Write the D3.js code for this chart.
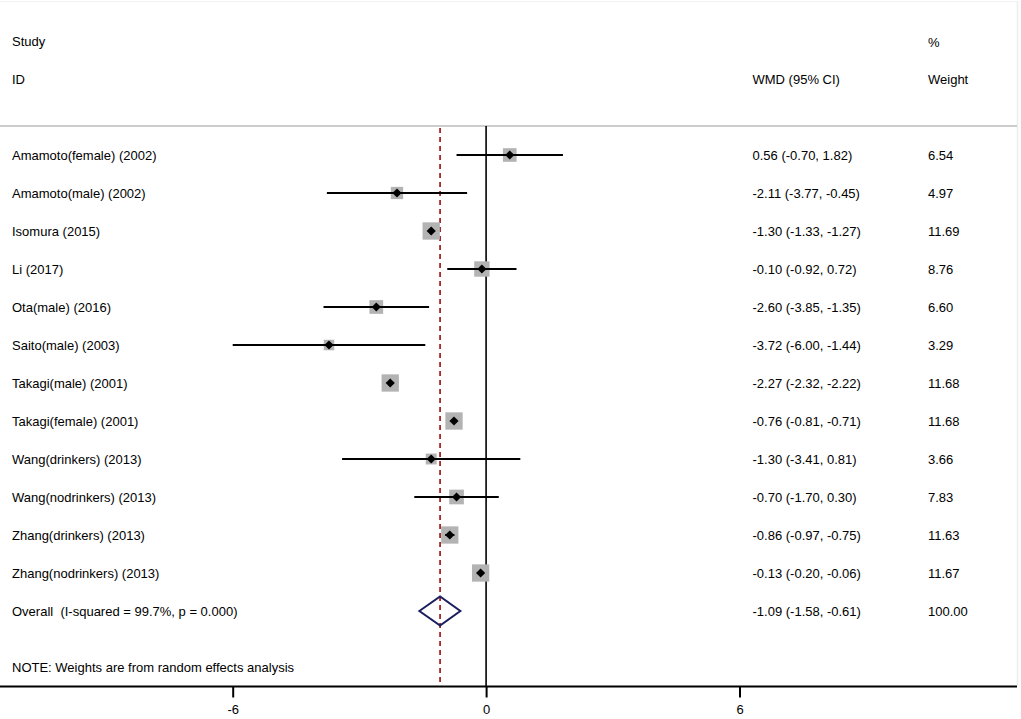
<!DOCTYPE html>
<html>
<head>
<meta charset="utf-8">
<script src="https://cdn.jsdelivr.net/npm/d3@7"></script>
<style>
  html, body { margin: 0; padding: 0; background: #fff; }
  svg text { font-family: "Liberation Sans", Arial, sans-serif; font-size: 13px; fill: #000; white-space: pre; }
</style>
</head>
<body>
<svg id="chart" width="1021" height="719"></svg>
<script>
const studies = ["Amamoto(female) (2002)", "Amamoto(male) (2002)", "Isomura (2015)", "Li (2017)",
  "Ota(male) (2016)", "Saito(male) (2003)", "Takagi(male) (2001)", "Takagi(female) (2001)",
  "Wang(drinkers) (2013)", "Wang(nodrinkers) (2013)", "Zhang(drinkers) (2013)", "Zhang(nodrinkers) (2013)"];
const estimates = [0.56, -2.11, -1.30, -0.10, -2.60, -3.72, -2.27, -0.76, -1.30, -0.70, -0.86, -0.13];
const lower =     [-0.70, -3.77, -1.33, -0.92, -3.85, -6.00, -2.32, -0.81, -3.41, -1.70, -0.97, -0.20];
const upper =     [1.82, -0.45, -1.27, 0.72, -1.35, -1.44, -2.22, -0.71, 0.81, 0.30, -0.75, -0.06];
const weights =   [6.54, 4.97, 11.69, 8.76, 6.60, 3.29, 11.68, 11.68, 3.66, 7.83, 11.63, 11.67];
const overall = { label: "Overall  (I-squared = 99.7%, p = 0.000)", es: -1.09, lo: -1.58, hi: -0.61, weight: 100.00 };
const xTicks = [-6, 0, 6];
const note = "NOTE: Weights are from random effects analysis";

const locale = d3.formatLocale({ decimal: ".", thousands: ",", grouping: [3], currency: ["", ""], minus: "-" });

const svg = d3.select("#chart");

const x = d3.scaleLinear().domain([-6, 6]).range([232.7, 739.5]);
const rows = studies.concat([overall.label]);
const y = d3.scalePoint().domain(d3.range(rows.length)).range([155, 611]);
const boxSize = d3.scaleLinear().domain([Math.sqrt(3.29), Math.sqrt(11.69)]).range([10.5, 17.3]);

const fmt = locale.format(".2f");
const ciText = (e, l, h) => `${fmt(e)} (${fmt(l)}, ${fmt(h)})`;

// faint frame
svg.append("line").attr("x1", 0).attr("x2", 1017).attr("y1", 1.5).attr("y2", 1.5)
  .attr("stroke", "#f0f3f3").attr("stroke-width", 1);
svg.append("line").attr("x1", 1017.5).attr("x2", 1017.5).attr("y1", 1).attr("y2", 686)
  .attr("stroke", "#e8eeee").attr("stroke-width", 1.5);

// headers
svg.append("text").attr("x", 12).attr("y", 46).text("Study");
svg.append("text").attr("x", 12).attr("y", 84).text("ID");
svg.append("text").attr("x", 752.5).attr("y", 84).text("WMD (95% CI)");
svg.append("text").attr("x", 928).attr("y", 46.5).text("%");
svg.append("text").attr("x", 928).attr("y", 84).text("Weight");

// separator
svg.append("line").attr("x1", 0).attr("x2", 1017).attr("y1", 126).attr("y2", 126)
  .attr("stroke", "#bdbdbd").attr("stroke-width", 1.5);

// zero line
svg.append("line").attr("x1", x(0)).attr("x2", x(0)).attr("y1", 126).attr("y2", 686)
  .attr("stroke", "#000").attr("stroke-width", 1.6);

// overall dashed line
svg.append("line").attr("x1", x(overall.es)).attr("x2", x(overall.es)).attr("y1", 128).attr("y2", 686)
  .attr("stroke", "#9b0a0a").attr("stroke-width", 1.6).attr("stroke-dasharray", "5,4");

// study rows
const data = studies.map((s, i) => ({ s, e: estimates[i], l: lower[i], h: upper[i], w: weights[i], i }));
const g = svg.append("g");

data.forEach(d => {
  const cy = y(d.i);
  const bs = boxSize(Math.sqrt(d.w));
  g.append("rect").attr("x", x(d.e) - bs / 2).attr("y", cy - bs / 2).attr("width", bs).attr("height", bs)
    .attr("fill", "#b3b3b3");
  g.append("line").attr("x1", x(d.l)).attr("x2", x(d.h)).attr("y1", cy).attr("y2", cy)
    .attr("stroke", "#000").attr("stroke-width", 2);
  const r = 4.6;
  g.append("path").attr("d", `M${x(d.e) - r},${cy}L${x(d.e)},${cy - r}L${x(d.e) + r},${cy}L${x(d.e)},${cy + r}Z`)
    .attr("fill", "#000");
  svg.append("text").attr("x", 12).attr("y", cy + 4.8).text(d.s);
  svg.append("text").attr("x", 752.5).attr("y", cy + 4.8).text(ciText(d.e, d.l, d.h));
  svg.append("text").attr("x", 928).attr("y", cy + 4.8).text(fmt(d.w));
});

// overall row
const oy = y(studies.length);
svg.append("path")
  .attr("d", `M${x(overall.lo)},${oy}L${x(overall.es)},${oy - 14.5}L${x(overall.hi)},${oy}L${x(overall.es)},${oy + 14.5}Z`)
  .attr("fill", "none").attr("stroke", "#1b1f5e").attr("stroke-width", 2);
svg.append("text").attr("x", 12).attr("y", oy + 4.8).text(overall.label);
svg.append("text").attr("x", 752.5).attr("y", oy + 4.8).text(ciText(overall.es, overall.lo, overall.hi));
svg.append("text").attr("x", 928).attr("y", oy + 4.8).text(fmt(overall.weight));

// note
svg.append("text").attr("x", 12).attr("y", 671.5).text(note);

// x axis
const axis = d3.axisBottom(x).tickValues(xTicks).tickSize(11).tickPadding(7).tickFormat(locale.format("d"));
const ax = svg.append("g").attr("transform", "translate(0,686.5)").call(axis);
ax.select(".domain").remove();
ax.selectAll(".tick line").attr("stroke", "#000").attr("stroke-width", 2);
ax.selectAll(".tick text").attr("font-size", 13).attr("font-family", "Liberation Sans, Arial, sans-serif").attr("fill", "#000");
svg.append("line").attr("x1", 0).attr("x2", 1017).attr("y1", 686.5).attr("y2", 686.5)
  .attr("stroke", "#000").attr("stroke-width", 2);
</script>
</body>
</html>
